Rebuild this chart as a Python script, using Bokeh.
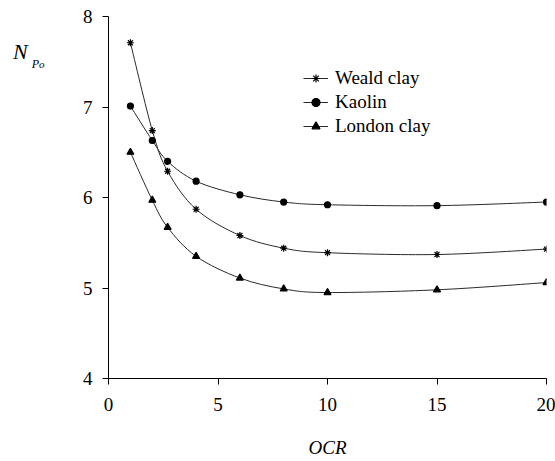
import numpy as np
from bokeh.plotting import figure
from bokeh.layouts import row
from bokeh.models import Range1d, Legend, LegendItem, FixedTicker, ColumnDataSource, Div
from bokeh.embed import file_html
from bokeh.resources import INLINE

# Cone factor N_Po against overconsolidation ratio for three clays
ocr = [1, 2, 2.7, 4, 6, 8, 10, 15, 20]
weald = [7.71, 6.74, 6.29, 5.87, 5.58, 5.44, 5.39, 5.37, 5.43]
kaolin = [7.01, 6.63, 6.40, 6.18, 6.03, 5.95, 5.92, 5.91, 5.95]
london = [6.50, 5.97, 5.67, 5.35, 5.11, 4.99, 4.95, 4.98, 5.06]

x_ticks = [0, 5, 10, 15, 20]
y_ticks = [4, 5, 6, 7, 8]

FONT = "Liberation Serif"
LINE = "#2a2a2a"


def bezier_source(xs, ys, t=1.0 / 6.0):
    """Cubic Bezier pieces (Catmull-Rom style) joining consecutive points."""
    P = np.column_stack([xs, ys]).astype(float)
    n = len(P)
    d = dict(x0=[], y0=[], x1=[], y1=[], cx0=[], cy0=[], cx1=[], cy1=[])
    for i in range(n - 1):
        pm = P[i - 1] if i > 0 else P[i]
        pp = P[i + 2] if i + 2 < n else P[i + 1]
        c0 = P[i] + (P[i + 1] - pm) * t
        c1 = P[i + 1] - (pp - P[i]) * t
        d["x0"].append(P[i][0]); d["y0"].append(P[i][1])
        d["x1"].append(P[i + 1][0]); d["y1"].append(P[i + 1][1])
        d["cx0"].append(c0[0]); d["cy0"].append(c0[1])
        d["cx1"].append(c1[0]); d["cy1"].append(c1[1])
    return ColumnDataSource(d)


p = figure(width=495, height=461, output_backend="svg", toolbar_location=None,
           x_range=Range1d(0, 20), y_range=Range1d(4, 8),
           min_border_left=48, min_border_right=9, min_border_top=16,
           min_border_bottom=83)
p.outline_line_color = None
p.xgrid.visible = False
p.ygrid.visible = False
p.background_fill_color = "white"
p.border_fill_color = "white"

for ax, ticks in ((p.xaxis, x_ticks), (p.yaxis, y_ticks)):
    ax.ticker = FixedTicker(ticks=ticks)
    ax.major_tick_in = 0
    ax.major_tick_out = 6
    ax.minor_tick_line_color = None
    ax.axis_line_color = "black"
    ax.major_tick_line_color = "black"
    ax.major_label_text_font = FONT
    ax.major_label_text_font_size = "19px"
    ax.major_label_text_font_style = "normal"
    ax.major_label_text_color = "black"
p.xaxis.major_label_standoff = 13
p.yaxis.major_label_standoff = 10

p.xaxis.axis_label = "OCR"
p.xaxis.axis_label_text_font = FONT
p.xaxis.axis_label_text_font_size = "19px"
p.xaxis.axis_label_text_font_style = "italic"
p.xaxis.axis_label_text_color = "black"
p.xaxis.axis_label_standoff = 23

series = [
    ("Weald clay", weald, "asterisk", 7),
    ("Kaolin", kaolin, "circle", 6),
    ("London clay", london, "triangle", 7),
]

items = []
for name, ys, marker, size in series:
    p.bezier(x0="x0", y0="y0", x1="x1", y1="y1", cx0="cx0", cy0="cy0",
             cx1="cx1", cy1="cy1", source=bezier_source(ocr, ys),
             line_color=LINE, line_width=1)
    sc = p.scatter(ocr, ys, marker=marker, size=size, fill_color="black",
                   line_color="black", line_width=1.2)
    key = p.line(x=ocr[:1], y=ys[:1], line_color=LINE, line_width=1)
    items.append(LegendItem(label=name, renderers=[key, sc]))

legend = Legend(items=items, location=(195, 241), padding=0, margin=0,
                spacing=2, glyph_width=25, glyph_height=20, label_standoff=7,
                label_text_font=FONT, label_text_font_size="19px",
                label_text_color="black", border_line_color=None,
                background_fill_alpha=0)
p.add_layout(legend, "center")

# Vertical-axis title N with compound subscript Po, in a strip left of the plot
ylabel_html = (
    "<div style=\"padding-top:41px; padding-left:13px; font-family:'Liberation Serif';"
    " font-style:italic; color:black; line-height:22px; white-space:nowrap\">"
    "<span style='font-size:22px'>N</span>"
    "<span style='font-size:12px; position:relative; top:9px; margin-left:4px'>P</span>"
    "<span style='font-size:11px; position:relative; top:9px'>o</span>"
    "</div>"
)
ylabel = Div(text=ylabel_html, width=60, height=461, margin=0)

layout = row(ylabel, p, spacing=0)

open("out.html", "w").write(file_html(layout, INLINE))
